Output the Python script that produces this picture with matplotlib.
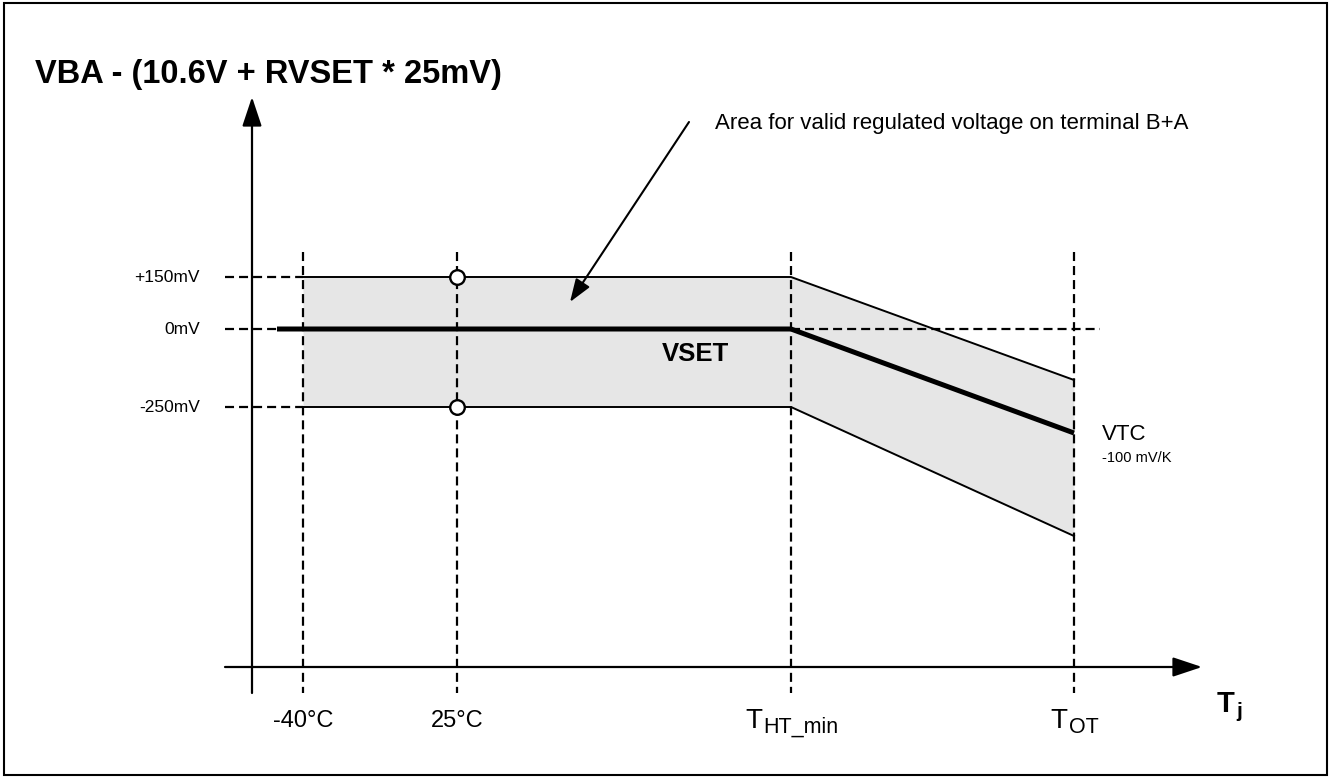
import matplotlib.pyplot as plt
from matplotlib.patches import Rectangle
from matplotlib.transforms import offset_copy

plt.rcParams['font.family'] = ['Liberation Sans', 'DejaVu Sans']
plt.rcParams['lines.scale_dashes'] = False

# diagram units (schematic), y=0 is the 0mV level, x=0 is the y axis
t_pos = [51, 205, 539, 822]
c_labels = ['-40°C', '25°C']
sub_labels = [('T', 'HT_min'), ('T', 'OT')]

v_levels = [52, 0, -78]
v_labels = ['+150mV', '0mV', '-250mV']

band_x = [51, 539, 822]
band_upper = [52, 52, -51]
band_lower = [-78, -78, -207]

vset_x = [25, 539, 822]
vset_y = [0, 0, -104]

x_axis_y = -338
dash = (0, (6.5, 3.6))

fig = plt.figure(figsize=(13.3, 7.78), dpi=100)
ax = fig.add_axes([0, 0, 1, 1])
ax.set_xlim(-252, 1078)
ax.set_ylim(-449, 329)
ax.axis('off')

# valid area
ax.fill_between(band_x, band_lower, band_upper, color='#e6e6e6', lw=0, zorder=1)
ax.plot(band_x, band_upper, color='k', lw=1.4, zorder=3)
ax.plot(band_x, band_lower, color='k', lw=1.4, zorder=3)

# dashed guides
for x in t_pos:
    ax.plot([x, x], [77, -364], color='k', lw=1.6, ls=dash, zorder=2)
ax.plot([-27, band_x[0]], [v_levels[0]] * 2, color='k', lw=1.6, ls=dash, zorder=2)
ax.plot([-27, band_x[0]], [v_levels[2]] * 2, color='k', lw=1.6, ls=dash, zorder=2)
ax.plot([-27, vset_x[0]], [0, 0], color='k', lw=1.6, ls=dash, zorder=2)
ax.plot([vset_x[1], 848], [0, 0], color='k', lw=1.6, ls=dash, zorder=2)

# VSET / VTC
ax.plot(vset_x, vset_y, color='k', lw=3.6, zorder=4, solid_capstyle='butt')
ax.plot([t_pos[1]] * 2, [v_levels[0], v_levels[2]], 'o', ms=10.5, mfc='white',
        mec='k', mew=1.7, zorder=5)

# axes arrows
arr = dict(arrowstyle='-|>,head_length=1.8,head_width=0.6', mutation_scale=10,
           color='k', lw=1.6, shrinkA=0, shrinkB=0)
ax.annotate('', xy=(0, 232), xytext=(0, -364), arrowprops=arr)
ax.annotate('', xy=(950, x_axis_y), xytext=(-27, x_axis_y), arrowprops=arr)

# labels
for y, lab in zip(v_levels, v_labels):
    ax.text(-52, y, lab, ha='right', va='center', fontsize=12.5)
for x, lab in zip(t_pos[:2], c_labels):
    ax.text(x, -398, lab, ha='center', va='baseline', fontsize=17)

renderer = fig.canvas.get_renderer()


def sub_text(x, y, main, sub, size, sub_size, weight='normal', center=True):
    t1 = ax.text(x, y, main, fontsize=size, fontweight=weight, va='baseline')
    t2 = ax.text(x, y, sub, fontsize=sub_size, fontweight=weight, va='baseline')
    w1 = t1.get_window_extent(renderer).width
    w2 = t2.get_window_extent(renderer).width
    x0 = -(w1 + w2) / 2 if center else 0
    t1.set_transform(offset_copy(ax.transData, fig, x=x0, y=0, units='dots'))
    t2.set_transform(offset_copy(ax.transData, fig, x=x0 + w1 + 1, y=-5, units='dots'))


for x, (m, s) in zip(t_pos[2:], sub_labels):
    sub_text(x, -399, m, s, 20, 15.5)
sub_text(965, -383, 'T', 'j', 21, 15, weight='bold', center=False)

ax.text(-217, 254, 'VBA - (10.6V + RVSET * 25mV)', ha='left', va='center',
        fontsize=23.5, fontweight='bold')
ax.text(443, -25, 'VSET', ha='center', va='center', fontsize=18.5, fontweight='bold')
ax.text(850, -106, 'VTC', ha='left', va='center', fontsize=16)
ax.text(850, -129, '-100 mV/K', ha='left', va='center', fontsize=10.5)

ax.annotate('', xy=(318, 27), xytext=(437, 207),
            arrowprops=dict(arrowstyle='-|>,head_length=1.4,head_width=0.5',
                            mutation_scale=10, color='k', lw=1.5, shrinkA=0, shrinkB=0))
ax.text(463, 206, 'Area for valid regulated voltage on terminal B+A', ha='left',
        va='center', fontsize=16)

fig.patches.append(Rectangle((4 / 1330, 3 / 778), 1323 / 1330, 772 / 778,
                             transform=fig.transFigure, fill=False, ec='k', lw=1.5))

fig.savefig('out.png', dpi=100)
